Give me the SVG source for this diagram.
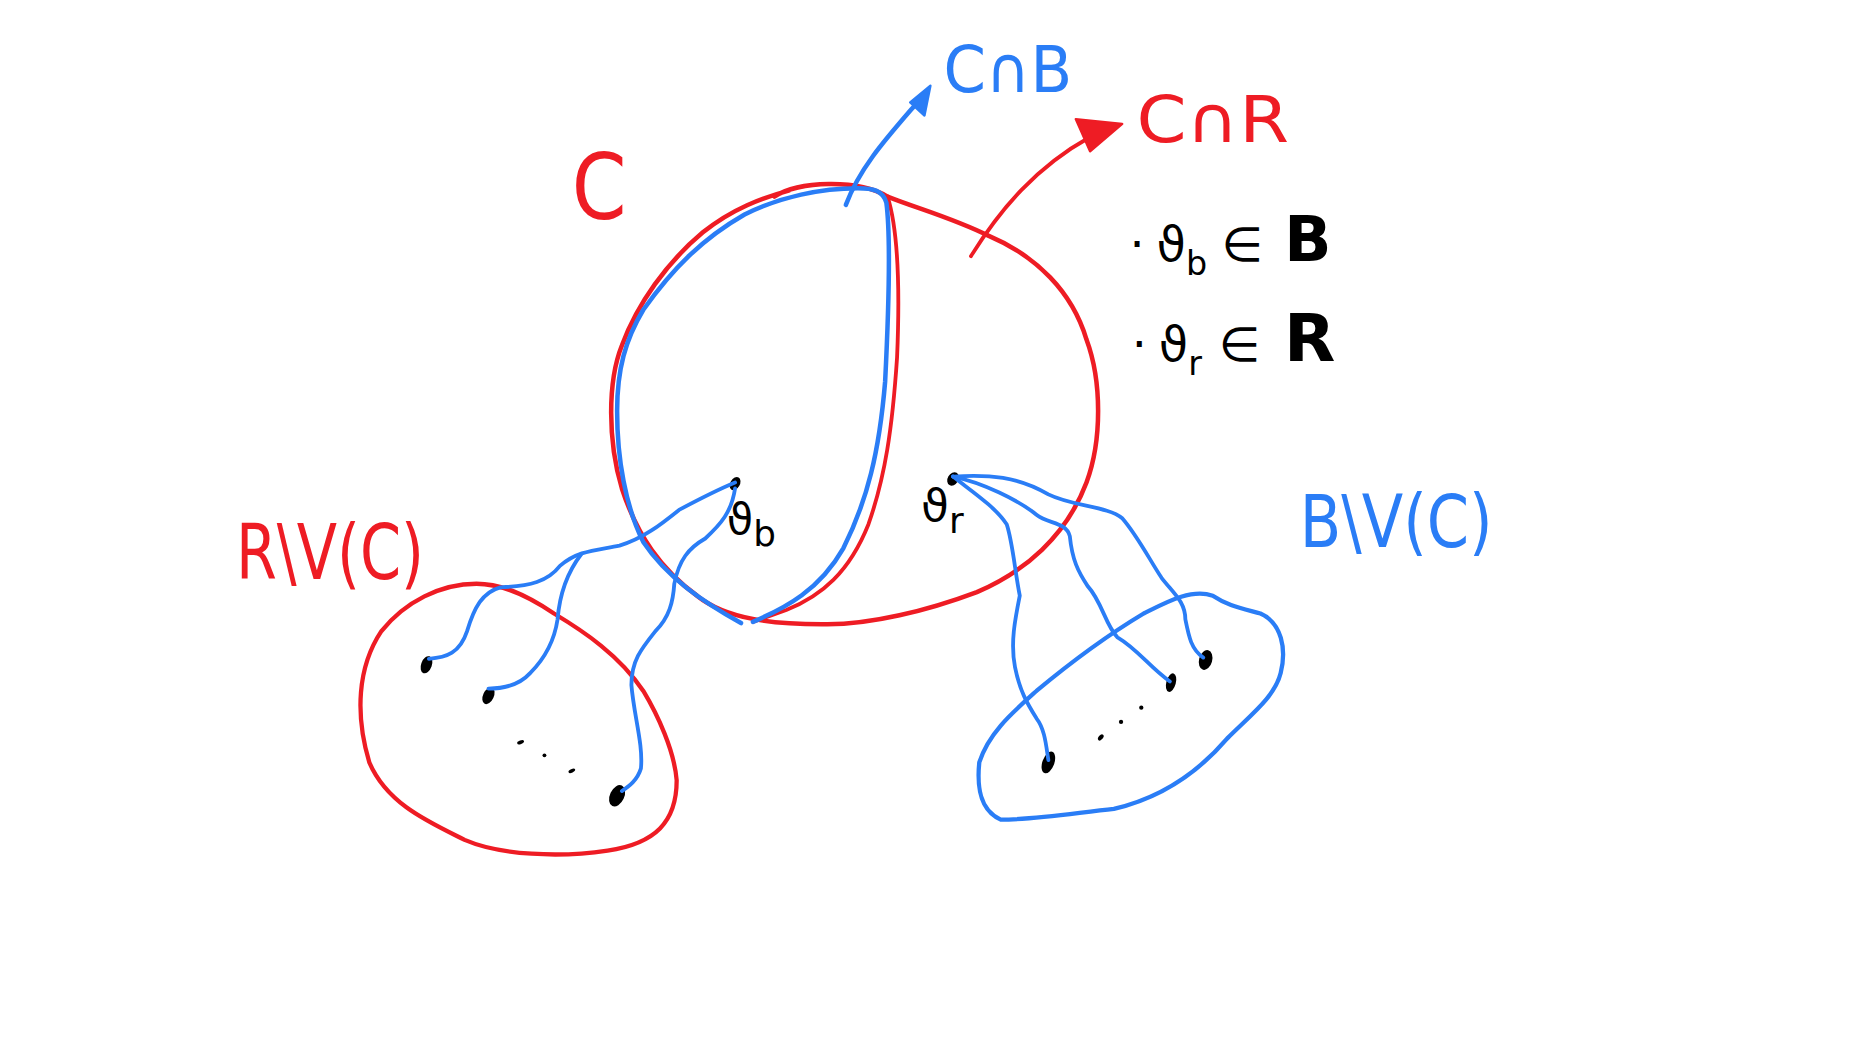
<svg xmlns="http://www.w3.org/2000/svg" width="1868" height="1058" viewBox="0 0 1868 1058">
<style>
.r{fill:none;stroke:#ee1c24;stroke-linecap:round;stroke-linejoin:round}
.b{fill:none;stroke:#2a7df6;stroke-linecap:round;stroke-linejoin:round}
.k{fill:#000}
.t{font-family:"DejaVu Sans","Liberation Sans",sans-serif}
.tr{fill:#ee1c24}.tb{fill:#2a7df6}.tk{fill:#000}
</style>
<rect width="1868" height="1058" fill="#fff"/>
<g transform="scale(1.191327)">
<g id="set-C">
<path class="r" stroke-width="3.8" d="M650,165 C670,152 720,150 745,165 C770,175 800,183 830,198 C870,215 900,245 912,285 C925,320 925,370 912,405 C895,450 860,480 820,497 C780,512 730,525 690,524 C650,524 610,520 585,500 C555,478 535,450 522,410 C510,370 510,320 522,290 C535,255 560,220 590,195 C615,175 640,166 662,160"/>
<path class="r" stroke-width="3.2" d="M745,165 C753,190 756,230 753,300 C749,360 743,400 729,440 C713,480 690,500 660,512 L632,522"/>
<path class="b" stroke-width="3.8" d="M622,523 C590,505 560,485 540,455 C525,425 518,385 518,345 C518,310 525,285 540,260 C565,225 590,200 625,180 C655,165 690,158 720,158 C733,158 741,160 744,170 C748,200 746,260 743,320 C738,380 728,420 708,460 C688,495 660,510 632,522"/>
</g>
<g id="set-R-minus-VC">
<path class="r" stroke-width="3.6" d="M400,490 C370,490 340,505 320,530 C300,560 298,600 310,640 C325,675 360,690 390,705 C420,718 470,720 510,714 C550,708 568,690 568,655 C566,630 552,600 540,580 C520,550 490,530 465,515 C440,498 420,490 400,490 Z"/>
<ellipse class="k" cx="358" cy="558" rx="4.5" ry="7.5" transform="rotate(20 358 558)"/>
<ellipse class="k" cx="410" cy="584" rx="4.5" ry="7.5" transform="rotate(25 410 584)"/>
<ellipse class="k" cx="518" cy="668" rx="6" ry="9.5" transform="rotate(25 518 668)"/>
<ellipse class="k" cx="437" cy="623" rx="3" ry="1.5" transform="rotate(-20 437 623)"/>
<circle class="k" cx="457" cy="634" r="1.6"/>
<ellipse class="k" cx="480" cy="647" rx="3" ry="1.5" transform="rotate(-25 480 647)"/>
</g>
<g id="set-B-minus-VC">
<path class="b" stroke-width="3.6" d="M822,640 C820,660 822,680 840,688 C870,688 905,682 935,679 C965,672 1000,655 1030,620 C1050,600 1070,585 1075,565 C1080,545 1076,523 1058,515 C1040,510 1030,508 1018,500 C1000,494 980,505 960,515 C930,533 900,555 870,580 C850,598 830,615 822,640 Z"/>
<ellipse class="k" cx="880" cy="640" rx="5" ry="9.5" transform="rotate(20 880 640)"/>
<ellipse class="k" cx="983" cy="573" rx="4" ry="8" transform="rotate(15 983 573)"/>
<ellipse class="k" cx="1012" cy="554" rx="5.5" ry="8.5" transform="rotate(15 1012 554)"/>
<ellipse class="k" cx="924" cy="619" rx="1.8" ry="3" transform="rotate(40 924 619)"/>
<circle class="k" cx="941" cy="606" r="1.8"/>
<circle class="k" cx="958" cy="594" r="1.8"/>
</g>
<g id="vertex-vb">
<ellipse class="k" cx="617" cy="406" rx="4" ry="6" transform="rotate(30 617 406)"/>
</g>
<g id="vertex-vr">
<ellipse class="k" cx="800" cy="402" rx="4.5" ry="6" transform="rotate(30 800 402)"/>
</g>
<g id="connectors">
<path class="b" stroke-width="3.8" d="M710,172 C722,140 745,115 770,86"/>
<polygon fill="#2a7df6" stroke="#2a7df6" stroke-width="2" stroke-linejoin="round" points="781,72 764,86 776,97"/>
<path class="r" stroke-width="3.2" d="M815,215 C840,175 870,140 915,115"/>
<polygon fill="#ee1c24" stroke="#ee1c24" stroke-width="2" stroke-linejoin="round" points="942,104 903,100 915,127"/>
<path class="b" stroke-width="3.2" d="M617,405 C605,410 585,420 570,428 C555,440 540,452 520,458 C500,462 485,462 470,475 C460,488 445,492 420,493 C405,497 398,510 392,530 C386,548 375,552 360,553"/>
<path class="b" stroke-width="3.2" d="M488,465 C478,478 470,495 468,520 C465,540 455,555 445,565 C435,576 422,578 410,578"/>
<path class="b" stroke-width="3.2" d="M617,410 C614,430 605,440 592,452 C578,460 570,470 566,490 C565,505 562,518 550,530 C538,545 530,555 530,575 C532,600 540,625 538,645 C535,655 528,660 522,664"/>
<path class="b" stroke-width="3.2" d="M800,400 C815,412 835,425 845,440 C850,455 852,480 856,500 C852,520 848,540 852,560 C856,580 862,590 870,603 C877,612 878,625 880,638"/>
<path class="b" stroke-width="3.2" d="M800,400 C825,405 855,420 870,432 C880,440 895,438 898,450 C900,470 905,480 913,492 C925,505 928,525 938,535 C955,545 965,560 982,572"/>
<path class="b" stroke-width="3.2" d="M800,400 C830,398 855,400 880,415 C900,425 930,425 942,435 C955,450 965,470 975,485 C985,498 995,505 995,520 C998,535 1000,545 1010,552"/>
</g>
<g id="labels" class="t">
<text class="tb" x="792" y="77" font-size="54" textLength="108" lengthAdjust="spacingAndGlyphs">C∩B</text>
<text class="tr" x="954" y="119" font-size="54" textLength="128" lengthAdjust="spacingAndGlyphs">C∩R</text>
<text class="tr" x="480" y="184" font-size="76" textLength="46" lengthAdjust="spacingAndGlyphs">C</text>
<text class="tk" x="948" y="219" font-size="40">·<tspan dx="10">ϑ</tspan><tspan font-size="28" dy="12">b</tspan><tspan dy="-12" dx="12">∈</tspan><tspan dx="18" font-size="52" font-weight="bold">B</tspan></text>
<text class="tk" x="950" y="303" font-size="40">·<tspan dx="10">ϑ</tspan><tspan font-size="28" dy="12">r</tspan><tspan dy="-12" dx="14">∈</tspan><tspan dx="20" font-size="56" font-weight="bold">R</tspan></text>
<text class="tr" x="198" y="486" font-size="64" textLength="158" lengthAdjust="spacingAndGlyphs">R\V(C)</text>
<text class="tb" x="1091" y="459" font-size="62" textLength="162" lengthAdjust="spacingAndGlyphs">B\V(C)</text>
<text class="tk" x="610" y="448" font-size="36">ϑ<tspan font-size="30" dy="10">b</tspan></text>
<text class="tk" x="773" y="437" font-size="38">ϑ<tspan font-size="30" dy="10">r</tspan></text>
</g>
</g>
</svg>
